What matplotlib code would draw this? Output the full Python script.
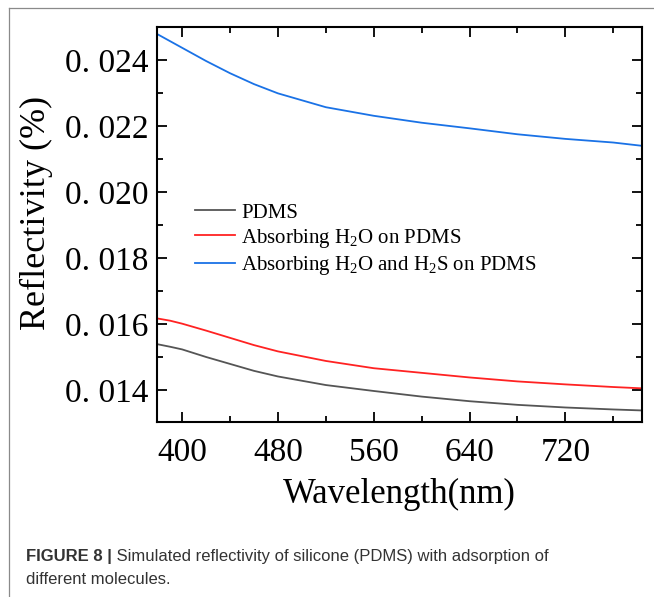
import matplotlib
matplotlib.use("Agg")
import matplotlib.pyplot as plt
from matplotlib.lines import Line2D
from matplotlib.ticker import MultipleLocator, FixedLocator, FixedFormatter

# values
wavelength = [379, 390, 400, 420, 440, 460, 480, 520, 560, 600, 640, 680, 720, 760, 784]
pdms = [0.01539, 0.01531, 0.01523, 0.01500, 0.01479, 0.01458, 0.01441, 0.01415, 0.01397,
        0.01380, 0.01366, 0.01355, 0.01347, 0.01341, 0.01338]
pdms_h2o = [0.01617, 0.01610, 0.01601, 0.01580, 0.01558, 0.01536, 0.01517, 0.01488, 0.01466,
            0.01452, 0.01438, 0.01426, 0.01417, 0.01409, 0.01405]
pdms_h2o_h2s = [0.02479, 0.02457, 0.02437, 0.02397, 0.02360, 0.02327, 0.02299, 0.02257, 0.02231,
                0.02210, 0.02193, 0.02175, 0.02161, 0.02150, 0.02140]

labels = ["PDMS",
          r"Absorbing $\mathregular{H_2O}$ on PDMS",
          r"Absorbing $\mathregular{H_2O}$ and $\mathregular{H_2S}$ on PDMS"]
colors = ["#555555", "#ff2222", "#1a72e6"]

yticks = [0.014, 0.016, 0.018, 0.020, 0.022, 0.024]
ytick_labels = ["0. 014", "0. 016", "0. 018", "0. 020", "0. 022", "0. 024"]
xticks = [400, 480, 560, 640, 720]

caption_bold = "FIGURE 8 |"
caption_line1 = " Simulated reflectivity of silicone (PDMS) with adsorption of"
caption_line2 = "different molecules."

serif = "Liberation Serif"
sans = "Liberation Sans"

fig = plt.figure(figsize=(6.54, 5.97), dpi=100)

# thin frame lines of the page
fig.add_artist(Line2D([9 / 654, 1], [1 - 8 / 597, 1 - 8 / 597], color="#8a8a8a", lw=0.9))
fig.add_artist(Line2D([9 / 654, 9 / 654], [0, 1 - 8 / 597], color="#8a8a8a", lw=0.9))

ax = fig.add_axes([157 / 654, 1 - 422 / 597, 485 / 654, 395.3 / 597])

for series, label, color in zip([pdms, pdms_h2o, pdms_h2o_h2s], labels, colors):
    ax.plot(wavelength, series, color=color, lw=1.3, label=label)

ax.set_xlim(379, 784)
ax.set_ylim(0.01303, 0.02501)

ax.xaxis.set_major_locator(FixedLocator(xticks))
ax.xaxis.set_minor_locator(MultipleLocator(40))
ax.yaxis.set_major_locator(FixedLocator(yticks))
ax.yaxis.set_major_formatter(FixedFormatter(ytick_labels))
ax.yaxis.set_minor_locator(MultipleLocator(0.001))

ax.tick_params(which="both", direction="in", top=True, right=True, width=1.3)
ax.tick_params(which="major", length=7, labelsize=24)
ax.tick_params(axis="x", which="major", pad=11)
ax.tick_params(axis="y", which="major", pad=6)
ax.tick_params(which="minor", length=4)
for lab in ax.get_xticklabels() + ax.get_yticklabels():
    lab.set_fontfamily(serif)

for sp in ax.spines.values():
    sp.set_linewidth(1.5)

ax.set_xlabel("Wavelength(nm)", fontsize=25, fontfamily=serif, labelpad=7)
ax.set_ylabel("Reflectivity (%)", fontsize=26, fontfamily=serif)
ax.yaxis.set_label_coords(-0.215, 0.53)

ax.legend(loc="upper left", bbox_to_anchor=(0.062, 0.575), frameon=False,
          prop={"family": serif, "size": 15}, handlelength=1.9, handletextpad=0.3,
          labelspacing=0.2, borderaxespad=0)

# caption: bold lead-in followed by regular text
t_bold = fig.text(26 / 654, 1 - 556 / 597, caption_bold, fontsize=12, color="#333333",
                  va="center", fontfamily=sans, fontweight="bold")
plt.annotate(caption_line1, xy=(1, 0.5), xycoords=t_bold, va="center", ha="left",
             fontsize=12, color="#333333", fontfamily=sans)
fig.text(26 / 654, 1 - 580 / 597, caption_line2, fontsize=12, color="#333333",
         va="center", fontfamily=sans)

fig.savefig("out.png", dpi=100)
